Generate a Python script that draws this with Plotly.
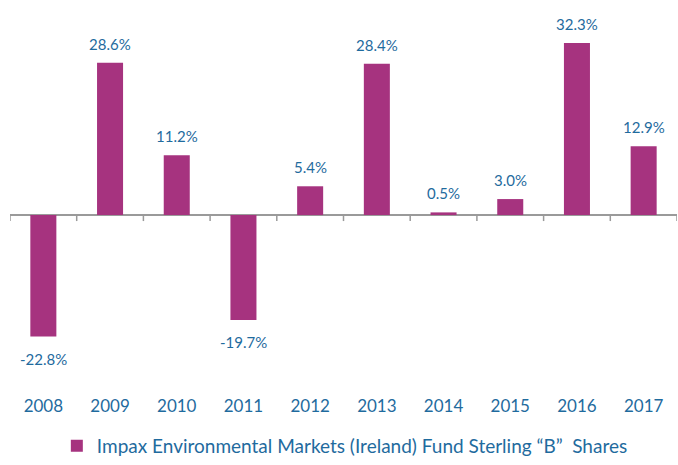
import plotly.graph_objects as go

years = ["2008", "2009", "2010", "2011", "2012", "2013", "2014", "2015", "2016", "2017"]
returns = [-22.8, 28.6, 11.2, -19.7, 5.4, 28.4, 0.5, 3.0, 32.3, 12.9]
labels = [f"{v:.1f}%" for v in returns]
series_name = "Impax Environmental Markets (Ireland) Fund Sterling \u201cB\u201d  Shares"

BAR = "#A6337F"
TXT = "#1F6B9E"
FONT = "Lato"

fig = go.Figure()
fig.add_trace(go.Bar(
    x=years, y=returns, name=series_name,
    marker=dict(color=BAR, line=dict(width=0)),
    width=0.39, showlegend=True,
))

for i, (v, lab) in enumerate(zip(returns, labels)):
    fig.add_annotation(x=i, y=v, text=lab, showarrow=False,
                       yshift=19 if v >= 0 else -22, yanchor="middle",
                       font=dict(color=TXT, size=15, family=FONT))

shapes = []
for i in range(len(years) + 1):
    shapes.append(dict(type="line", xref="x", yref="y", x0=i - 0.5, x1=i - 0.5,
                       ysizemode="pixel", yanchor=0, y0=0, y1=-6,
                       line=dict(color="#9A9A9A", width=1.5)))
fig.update_layout(
    width=678, height=465,
    margin=dict(l=10, r=1, t=20, b=85, autoexpand=False),
    plot_bgcolor="white", paper_bgcolor="white",
    font=dict(family=FONT, color=TXT),
    shapes=shapes,
    xaxis=dict(type="category", showline=False, ticks="",
               tickfont=dict(size=17, color=TXT, family=FONT),
               range=[-0.5, 9.5], showgrid=False, ticklabelstandoff=14),
    yaxis=dict(range=[-30.95, 36.6], showticklabels=False, showgrid=False,
               zeroline=True, zerolinecolor="#9A9A9A", zerolinewidth=1.5),
    legend=dict(orientation="h", x=0.502, xanchor="center", y=0, yref="container",
                yanchor="bottom",
                font=dict(size=19, color=TXT, family=FONT)),
    bargap=0.6,
)
fig.write_html("out.html")
